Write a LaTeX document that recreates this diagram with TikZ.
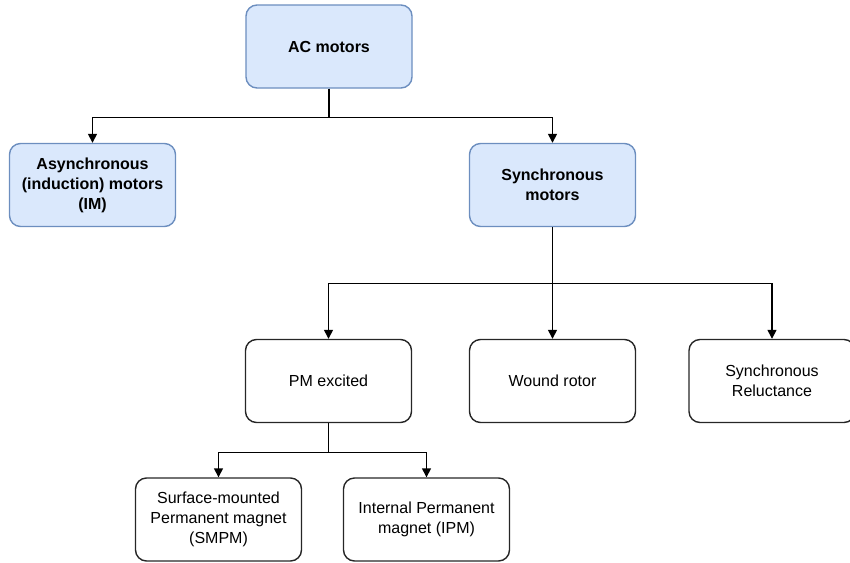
\documentclass[tikz,border=0pt]{standalone}
\usepackage{fontspec}
\setmainfont{Liberation Sans}
\usetikzlibrary{arrows.meta}
\definecolor{boxblue}{HTML}{DAE8FC}
\definecolor{edgeblue}{HTML}{6C8EBF}

\begin{document}
\begin{tikzpicture}[x=1pt,y=-1pt, line width=1.4pt,
  every node/.style={font=\fontsize{16}{20}\selectfont, align=center},
  box/.style={draw=black!85, rounded corners=11pt, minimum width=166pt, minimum height=83pt, inner sep=0pt},
  topbox/.style={box, draw=edgeblue, fill=boxblue, font=\fontsize{16}{20}\selectfont\bfseries},
  link/.style={-{Triangle[length=9pt,width=9pt]}}]

\useasboundingbox (0,0) rectangle (850,562);

\node[topbox] (ac)   at (329,46.5) {AC motors};
\node[topbox] (im)   at (92.5,185) {Asynchronous\\(induction) motors\\(IM)};
\node[topbox] (sync) at (552.5,185) {Synchronous\\motors};

\node[box] (pm)    at (328.5,381) {PM excited};
\node[box] (wound) at (552.5,381) {Wound rotor};
\node[box] (rel)   at (772,381) {Synchronous\\Reluctance};

\node[box] (smpm) at (218.5,519.5) {Surface-mounted\\Permanent magnet\\(SMPM)};
\node[box] (ipm)  at (426.5,519.5) {Internal Permanent\\magnet (IPM)};

\foreach \n in {im,sync}
   {
	\draw[link] (ac.south) -- ++(0,29) -| (\n.north);
   };
\foreach \n in {pm,wound,rel}
   {
	\draw[link] (sync.south) -- ++(0,56) -| (\n.north);
   };
\foreach \n in {smpm,ipm}
   {
	\draw[link] (pm.south) -- ++(0,29) -| (\n.north);
   };
\end{tikzpicture}
\end{document}
